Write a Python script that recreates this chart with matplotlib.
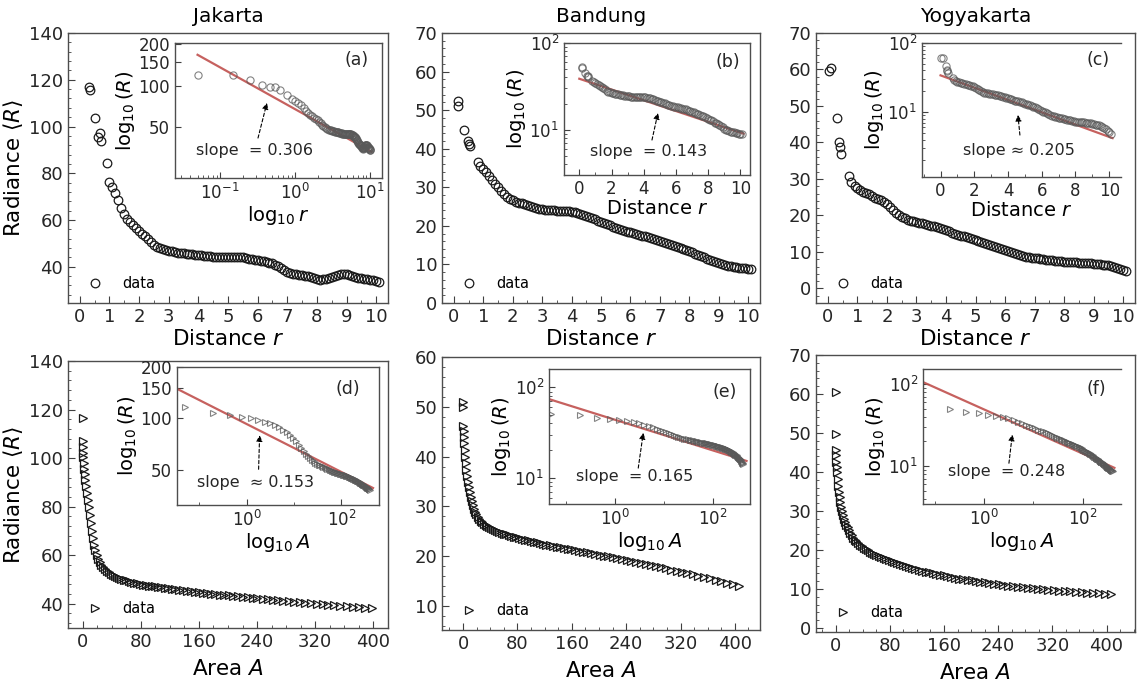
import matplotlib.pyplot as plt
from matplotlib.ticker import (AutoMinorLocator, MultipleLocator, FixedLocator,
                               NullLocator, LogLocator, ScalarFormatter, NullFormatter)

W, H = 1144, 689

# ---------------- data: radiance vs distance r (top row) ----------------
r_dense = [1.0, 1.1, 1.2, 1.3, 1.4, 1.5, 1.6, 1.7, 1.8, 1.9,
           2.0, 2.1, 2.2, 2.3, 2.4, 2.5, 2.6, 2.7, 2.8, 2.9,
           3.0, 3.1, 3.2, 3.3, 3.4, 3.5, 3.6, 3.7, 3.8, 3.9,
           4.0, 4.1, 4.2, 4.3, 4.4, 4.5, 4.6, 4.7, 4.8, 4.9,
           5.0, 5.1, 5.2, 5.3, 5.4, 5.5, 5.6, 5.7, 5.8, 5.9,
           6.0, 6.1, 6.2, 6.3, 6.4, 6.5, 6.6, 6.7, 6.8, 6.9,
           7.0, 7.1, 7.2, 7.3, 7.4, 7.5, 7.6, 7.7, 7.8, 7.9,
           8.0, 8.1, 8.2, 8.3, 8.4, 8.5, 8.6, 8.7, 8.8, 8.9,
           9.0, 9.1, 9.2, 9.3, 9.4, 9.5, 9.6, 9.7, 9.8, 9.9,
           10.0, 10.1]

r_early_jkt = [0.3, 0.34, 0.52, 0.62, 0.67, 0.71, 0.91]
R_early_jkt = [116.9, 115.7, 103.6, 95.4, 97.1, 93.6, 84.3]
R_dense_jkt = [76.4, 74.3, 71.6, 68.5, 65.0, 62.4, 60.6, 59.3, 57.8, 56.6,
               55.5, 54.2, 53.0, 51.7, 50.4, 49.3, 48.5, 47.9, 47.4, 47.1,
               46.9, 46.6, 46.4, 46.1, 45.9, 45.7, 45.6, 45.4, 45.3, 45.1,
               45.0, 44.9, 44.7, 44.5, 44.4, 44.3, 44.2, 44.1, 44.0, 44.0,
               44.0, 44.1, 44.2, 44.2, 44.1, 44.0, 43.8, 43.5, 43.3, 43.1,
               42.9, 42.6, 42.3, 42.0, 41.7, 41.4, 40.9, 40.2, 39.4, 38.6,
               37.9, 37.4, 37.0, 36.7, 36.5, 36.4, 36.2, 35.9, 35.5, 35.0,
               34.6, 34.5, 34.6, 34.9, 35.3, 35.7, 36.1, 36.5, 36.8, 36.9,
               36.7, 36.4, 36.0, 35.6, 35.3, 35.0, 34.8, 34.6, 34.4, 34.2,
               33.9, 33.6]

# early points as they appear in the log-log inset (a)
r_ins_jkt = [0.05, 0.15, 0.25, 0.36, 0.46, 0.54, 0.63, 0.77, 0.9]
R_ins_jkt = [119, 120, 110, 101, 98, 98, 93, 85, 80]

r_early_bdg = [0.14, 0.15, 0.36, 0.47, 0.52, 0.56, 0.81, 0.9]
R_early_bdg = [51.2, 52.3, 44.9, 41.9, 41.3, 40.6, 36.6, 35.4]
R_dense_bdg = [34.7, 33.9, 32.9, 31.8, 30.9, 30.0, 29.1, 28.3, 27.5, 26.9,
               26.6, 26.3, 26.0, 25.8, 25.6, 25.3, 25.1, 24.9, 24.7, 24.5,
               24.4, 24.2, 24.1, 24.0, 24.0, 23.9, 23.9, 23.9, 23.9, 23.8,
               23.7, 23.6, 23.4, 23.2, 22.9, 22.6, 22.3, 22.0, 21.7, 21.3,
               21.0, 20.7, 20.4, 20.1, 19.8, 19.5, 19.2, 19.0, 18.7, 18.5,
               18.3, 18.1, 17.9, 17.7, 17.5, 17.3, 17.1, 16.9, 16.6, 16.4,
               16.1, 15.9, 15.6, 15.3, 15.0, 14.8, 14.5, 14.3, 14.0, 13.7,
               13.4, 13.1, 12.8, 12.5, 12.1, 11.8, 11.5, 11.2, 10.9, 10.6,
               10.3, 10.0, 9.8, 9.6, 9.5, 9.4, 9.3, 9.2, 9.1, 9.0,
               8.9, 8.8]

r_early_yog = [0.05, 0.12, 0.31, 0.38, 0.4, 0.46, 0.71, 0.8, 0.93]
R_early_yog = [59.7, 60.3, 46.6, 40.2, 38.8, 36.8, 30.7, 29.2, 28.0]
R_dense_yog = [27.5, 27.0, 26.5, 26.2, 25.8, 25.4, 24.9, 24.5, 24.1, 23.8,
               23.2, 22.3, 21.5, 20.8, 20.2, 19.7, 19.2, 18.8, 18.6, 18.4,
               18.2, 18.0, 17.8, 17.6, 17.4, 17.2, 17.0, 16.8, 16.5, 16.2,
               16.0, 15.7, 15.3, 15.0, 14.7, 14.5, 14.3, 14.1, 13.8, 13.5,
               13.3, 13.0, 12.8, 12.5, 12.2, 12.0, 11.7, 11.4, 11.1, 10.8,
               10.5, 10.2, 10.0, 9.7, 9.4, 9.2, 8.9, 8.7, 8.5, 8.4,
               8.3, 8.2, 8.1, 8.0, 7.9, 7.8, 7.7, 7.6, 7.5, 7.4,
               7.3, 7.3, 7.2, 7.2, 7.2, 7.1, 7.0, 7.0, 6.9, 6.9,
               6.8, 6.7, 6.6, 6.5, 6.4, 6.3, 6.1, 5.9, 5.7, 5.4,
               5.1, 4.9]

# ---------------- data: radiance vs area A (bottom row) ----------------
area = [0.05, 0.20, 0.44, 0.79, 1.23, 1.77, 2.41, 3.14, 3.98, 4.91,
        5.94, 7.07, 8.30, 9.62, 11.04, 12.57, 14.19, 15.90, 17.72, 19.63,
        21.65, 23.76, 25.97, 28.27, 30.68, 33.18, 35.78, 38.48, 41.28, 44.18,
        47.17, 50.27, 53.46, 56.75, 60.13, 63.62, 67.20, 70.88, 74.66, 78.54,
        82.52, 86.59, 90.76, 95.03, 99.40, 103.87, 108.43, 113.10, 117.86, 122.72,
        127.68, 132.73, 137.89, 143.14, 148.49, 153.94, 159.48, 165.13, 170.87, 176.71,
        182.65, 188.69, 194.83, 201.06, 207.39, 213.82, 220.35, 226.98, 233.71, 240.53,
        247.45, 254.47, 261.59, 268.80, 276.12, 283.53, 291.04, 298.65, 306.35, 314.16,
        322.06, 330.06, 338.16, 346.36, 354.66, 363.05, 371.54, 380.13, 388.82, 397.61,
        406.49]

R_area_jkt = [116.7, 107.0, 104.5, 102.3, 100.3, 98.0, 95.6, 93.3, 91.0, 88.5,
              85.8, 82.9, 79.8, 76.6, 73.3, 70.1, 67.0, 64.3, 62.0, 60.0,
              58.4, 57.0, 55.9, 55.0, 54.2, 53.5, 52.9, 52.4, 51.9, 51.5,
              51.0, 50.6, 50.2, 49.9, 49.6, 49.3, 49.0, 48.7, 48.4, 48.1,
              47.9, 47.7, 47.5, 47.3, 47.1, 46.9, 46.7, 46.5, 46.3, 46.2,
              46.0, 45.8, 45.6, 45.4, 45.2, 45.0, 44.8, 44.6, 44.4, 44.2,
              44.0, 43.8, 43.6, 43.4, 43.2, 43.0, 42.8, 42.6, 42.4, 42.2,
              42.0, 41.8, 41.6, 41.4, 41.2, 41.0, 40.8, 40.6, 40.4, 40.2,
              40.0, 39.8, 39.6, 39.4, 39.2, 39.0, 38.8, 38.6, 38.4, 38.2]

R_area_bdg = [51.0, 50.0, 46.2, 45.2, 44.0, 42.7, 41.3, 40.0, 38.7, 37.4,
              36.2, 35.0, 33.9, 32.9, 31.9, 31.0, 30.2, 29.5, 28.9, 28.4,
              27.9, 27.5, 27.1, 26.8, 26.5, 26.2, 26.0, 25.8, 25.6, 25.4,
              25.2, 25.0, 24.8, 24.7, 24.5, 24.4, 24.2, 24.1, 23.9, 23.8,
              23.6, 23.5, 23.3, 23.2, 23.0, 22.9, 22.8, 22.6, 22.5, 22.3,
              22.2, 22.1, 21.9, 21.8, 21.7, 21.5, 21.4, 21.2, 21.1, 20.9,
              20.8, 20.6, 20.5, 20.3, 20.1, 20.0, 19.8, 19.6, 19.4, 19.2,
              19.0, 18.8, 18.6, 18.4, 18.2, 18.0, 17.8, 17.6, 17.3, 17.1,
              16.9, 16.6, 16.4, 16.1, 15.9, 15.6, 15.3, 15.0, 14.7, 14.4,
              14.0]

R_area_yog = [60.4, 49.7, 45.7, 44.3, 42.6, 41.3, 40.0, 38.3, 36.5, 34.8,
              33.5, 32.2, 31.0, 29.9, 28.9, 28.0, 27.2, 26.5, 25.8, 25.1,
              24.4, 23.8, 23.2, 22.7, 22.2, 21.8, 21.4, 21.0, 20.6, 20.3,
              19.9, 19.6, 19.3, 19.0, 18.7, 18.4, 18.1, 17.9, 17.7, 17.4,
              17.2, 17.0, 16.8, 16.5, 16.2, 15.9, 15.6, 15.4, 15.2, 14.9,
              14.7, 14.5, 14.3, 14.1, 13.9, 13.7, 13.5, 13.3, 13.1, 12.9,
              12.7, 12.6, 12.4, 12.3, 12.1, 11.9, 11.7, 11.6, 11.4, 11.3,
              11.1, 10.9, 10.8, 10.6, 10.5, 10.3, 10.2, 10.0, 9.9, 9.8,
              9.7, 9.6, 9.5, 9.4, 9.3, 9.2, 9.1, 9.0, 8.9, 8.8,
              8.7]

# fitted lines (end points) and slopes
fit_x_a, fit_y_a = [0.05, 10.5], [168, 32.7]
fit_x_b, fit_y_b = [0.0, 10.2], [38.7, 9.0]
fit_x_c, fit_y_c = [0.0, 10.2], [34.0, 4.2]
fit_x_d, fit_y_d = [0.034, 464], [149, 39]
fit_x_e, fit_y_e = [0.046, 476], [74.2, 15.3]
fit_x_f, fit_y_f = [0.06, 441], [105, 9.55]

slope_text = ["slope  = 0.306", "slope  = 0.143", "slope \u2248 0.205",
              "slope  \u2248 0.153", "slope  = 0.165", "slope  = 0.248"]
cities = ["Jakarta", "Bandung", "Yogyakarta"]


def px_rect(l, t, r, b):
    return [l / W, 1 - b / H, (r - l) / W, (b - t) / H]


def style(ax, size, major=5, minor=2.5):
    for s in ax.spines.values():
        s.set_color("0.3")
        s.set_linewidth(1.0)
    ax.tick_params(which="both", direction="in", top=False, right=False,
                   labelsize=size, colors="0.25", labelcolor="0.15")
    ax.tick_params(which="major", length=major)
    ax.tick_params(which="minor", length=minor)


fig = plt.figure(figsize=(W / 100, H / 100), dpi=100)

# ---------------- main panels ----------------
top_rects = [px_rect(68, 33, 388, 303), px_rect(442, 33, 760, 303), px_rect(816, 33, 1135, 303)]
bot_rects = [px_rect(68, 361, 388, 628), px_rect(442, 357, 760, 630), px_rect(816, 355, 1135, 632)]

top_x = [r_early_jkt + r_dense, r_early_bdg + r_dense, r_early_yog + r_dense]
top_y = [R_early_jkt + R_dense_jkt, R_early_bdg + R_dense_bdg, R_early_yog + R_dense_yog]
top_ylim = [(24.5, 140), (0, 70), (-4, 70)]
top_ystep = [20, 10, 10]

bot_y = [R_area_jkt, R_area_bdg, R_area_yog]
bot_xlim = [(-20, 420), (-31, 437), (-29, 442)]
bot_ylim = [(30, 140), (5.2, 60), (-1, 70)]
bot_ystep = [20, 10, 10]

for k in range(3):
    ax = fig.add_axes(top_rects[k])
    ax.plot(top_x[k], top_y[k], "o", ms=6.2, mfc="none", mec="0.1", mew=0.9, label="data")
    ax.set_xlim(-0.4, 10.4)
    ax.set_ylim(*top_ylim[k])
    ax.xaxis.set_major_locator(MultipleLocator(1))
    ax.xaxis.set_minor_locator(MultipleLocator(0.5))
    ax.yaxis.set_major_locator(MultipleLocator(top_ystep[k]))
    ax.yaxis.set_minor_locator(AutoMinorLocator(5))
    style(ax, 13)
    ax.set_xlabel("Distance $r$", fontsize=15.5, labelpad=2)
    ax.set_title(cities[k], fontsize=14.5, pad=8)
    if k == 0:
        ax.set_ylabel(r"Radiance $\langle R\rangle$", fontsize=15.5, labelpad=3)
    ax.legend(loc="lower left", frameon=False, fontsize=10.5, numpoints=1,
              handletextpad=0.9, borderaxespad=0.45)

    ax = fig.add_axes(bot_rects[k])
    ax.plot(area[:len(bot_y[k])], bot_y[k], ">", ms=5.8, mfc="none", mec="0.1", mew=0.9, label="data")
    ax.set_xlim(*bot_xlim[k])
    ax.set_ylim(*bot_ylim[k])
    ax.xaxis.set_major_locator(MultipleLocator(80))
    ax.xaxis.set_minor_locator(AutoMinorLocator(4))
    ax.yaxis.set_major_locator(MultipleLocator(bot_ystep[k]))
    ax.yaxis.set_minor_locator(AutoMinorLocator(5))
    style(ax, 13)
    ax.set_xlabel("Area $A$", fontsize=15.5, labelpad=6)
    if k == 0:
        ax.set_ylabel(r"Radiance $\langle R\rangle$", fontsize=15.5, labelpad=3)
    ax.legend(loc="lower left", frameon=False, fontsize=10.5, numpoints=1,
              handletextpad=0.9, borderaxespad=0.45)

# ---------------- insets ----------------
ins_rects = [px_rect(175, 43, 382, 178), px_rect(564, 43, 750, 175), px_rect(922, 43, 1121, 177),
             px_rect(177, 367, 379, 505), px_rect(549, 369, 750, 504), px_rect(923, 369, 1121, 504)]
ins_x = [r_ins_jkt + r_dense, top_x[1], top_x[2],
         area[:len(R_area_jkt)], area[:len(R_area_bdg)], area[:len(R_area_yog)]]
ins_y = [R_ins_jkt + R_dense_jkt, top_y[1], top_y[2], R_area_jkt, R_area_bdg, R_area_yog]
fit_x = [fit_x_a, fit_x_b, fit_x_c, fit_x_d, fit_x_e, fit_x_f]
fit_y = [fit_y_a, fit_y_b, fit_y_c, fit_y_d, fit_y_e, fit_y_f]
ins_xlim = [(0.025, 14.5), (-0.95, 10.6), (-1.1, 10.7), (0.034, 620), (0.046, 560), (0.058, 600)]
ins_ylim = [(21, 205), (3.0, 100), (1.15, 100), (31, 200), (5.1, 160), (3.46, 153)]
ins_marker = ["o", "o", "o", ">", ">", ">"]
panel_tag = ["(a)", "(b)", "(c)", "(d)", "(e)", "(f)"]
tag_pos = [(0.876, 0.874), (0.88, 0.856), (0.884, 0.873), (0.848, 0.84), (0.876, 0.826), (0.874, 0.851)]
arrow_head = [(0.444, 0.556), (0.505, 0.47), (0.482, 0.463), (0.409, 0.506), (0.469, 0.527), (0.451, 0.515)]
arrow_tail = [(0.401, 0.296), (0.473, 0.265), (0.492, 0.313), (0.404, 0.259), (0.444, 0.266), (0.434, 0.302)]
text_pos = [(0.382, 0.207), (0.457, 0.18), (0.487, 0.201), (0.391, 0.16), (0.428, 0.204), (0.424, 0.244)]

for k in range(6):
    ax = fig.add_axes(ins_rects[k])
    ax.plot(fit_x[k], fit_y[k], "-", color="#c0504d", lw=1.6, alpha=0.9, zorder=2)
    ms = 5.2 if ins_marker[k] == "o" else 4.6
    ax.plot(ins_x[k], ins_y[k], ins_marker[k], ms=ms, mfc="none", mec="0.35", mew=0.8,
            alpha=0.75, zorder=3)
    ax.set_yscale("log")
    if k in (0, 3, 4, 5):
        ax.set_xscale("log")
    ax.set_xlim(*ins_xlim[k])
    ax.set_ylim(*ins_ylim[k])
    style(ax, 12, major=4, minor=2)

    if k in (0, 3):
        ax.yaxis.set_major_locator(FixedLocator([50, 100, 150, 200]))
        ax.yaxis.set_major_formatter(ScalarFormatter())
        ax.yaxis.set_minor_locator(NullLocator())
        ax.yaxis.set_minor_formatter(NullFormatter())
    if k == 0:
        ax.xaxis.set_major_locator(LogLocator(base=10, numticks=10))
        ax.set_xlabel(r"$\log_{10}r$", fontsize=14, labelpad=1)
    elif k in (1, 2):
        ax.xaxis.set_major_locator(MultipleLocator(2))
        ax.xaxis.set_minor_locator(MultipleLocator(1))
        ax.set_xlabel("Distance $r$", fontsize=14, labelpad=1)
    else:
        ax.xaxis.set_major_locator(LogLocator(base=100, numticks=10))
        ax.xaxis.set_minor_locator(LogLocator(base=10, subs=(1.0,), numticks=10))
        ax.xaxis.set_minor_formatter(NullFormatter())
        ax.set_xlabel(r"$\log_{10}A$", fontsize=14, labelpad=1)
    ax.set_ylabel(r"$\log_{10}(R)$", fontsize=14, labelpad=1)
    if k in (2, 5):
        ax.spines["right"].set_visible(False)

    ax.text(*tag_pos[k], panel_tag[k], transform=ax.transAxes, ha="center", va="center",
            fontsize=12.5, color="0.15")
    ax.annotate("", xy=arrow_head[k], xytext=arrow_tail[k], xycoords="axes fraction",
                textcoords="axes fraction",
                arrowprops=dict(arrowstyle="-|>", color="k", lw=0.8, linestyle=(0, (3, 2)),
                                mutation_scale=9, shrinkA=0, shrinkB=0))
    ax.text(*text_pos[k], slope_text[k], transform=ax.transAxes, ha="center", va="center",
            fontsize=11.5, color="0.15")

fig.savefig("out.png", dpi=100)
